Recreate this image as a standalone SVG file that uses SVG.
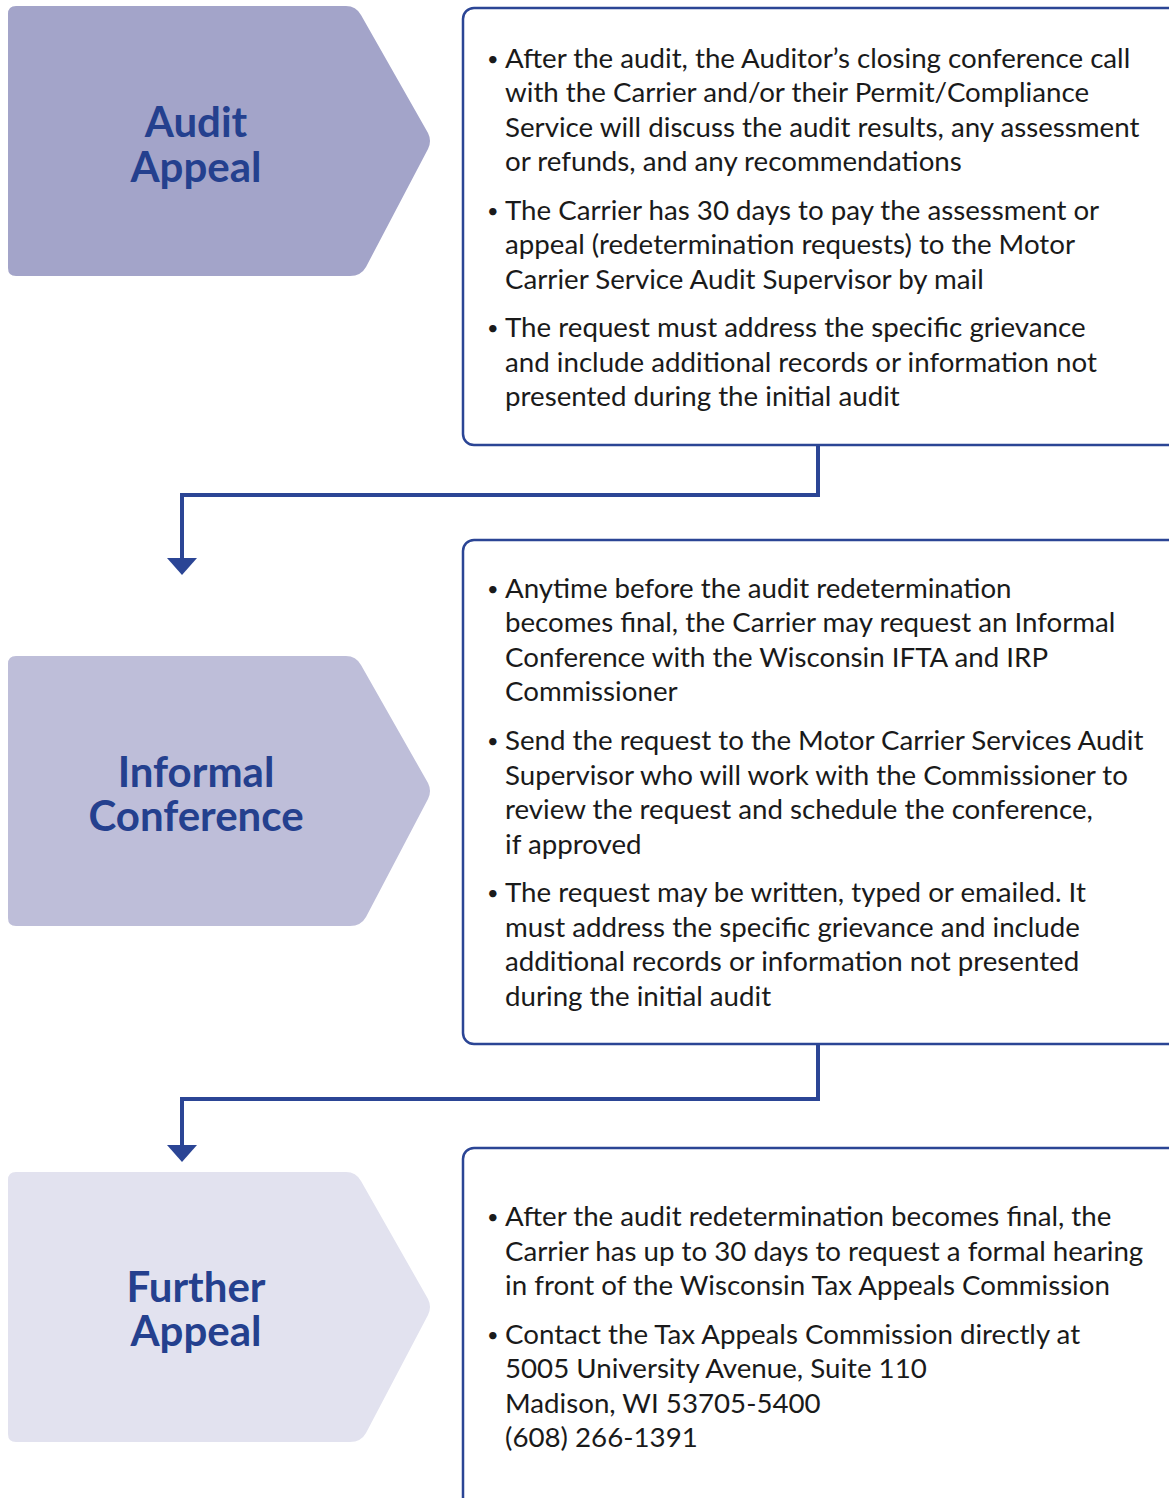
<svg xmlns="http://www.w3.org/2000/svg" width="1169" height="1498" viewBox="0 0 1169 1498">
<style>
.title{font-family:Lato,"Liberation Sans",sans-serif;font-weight:bold;font-size:42px;fill:#24408e;text-anchor:middle}
.body{font-family:Lato,"Liberation Sans",sans-serif;font-size:27.7px;fill:#1a1a1a}
.bul{font-size:20px}
.box{fill:#fff;stroke:#2b4595;stroke-width:2.5}
.conn{fill:none;stroke:#2b4595;stroke-width:4}
</style>
<defs>
<path id="chev" d="M16,6 H346 Q356,6 361,15 L428,133 Q432,141 428,149 L366,267 Q361,276 350,276 H16 Q8,276 8,268 V14 Q8,6 16,6 Z"/>
</defs>
<g id="audit-appeal">
<use href="#chev" fill="#a3a4c9"/>
<text class="title"><tspan x="196" y="137">Audit</tspan><tspan x="196" y="182">Appeal</tspan></text>
</g>
<g id="informal-conference">
<use href="#chev" fill="#bebed9" transform="translate(0,650)"/>
<text class="title"><tspan x="196" y="787">Informal</tspan><tspan x="196" y="831">Conference</tspan></text>
</g>
<g id="further-appeal">
<use href="#chev" fill="#e2e2ef" transform="translate(0,1166)"/>
<text class="title"><tspan x="196" y="1302">Further</tspan><tspan x="196" y="1346">Appeal</tspan></text>
</g>
<g id="box1">
<rect class="box" x="463" y="8" width="720" height="437" rx="11"/>
<g class="body">
<text class="bul" x="487" y="66">•</text>
<text x="505" y="68">After the audit, the Auditor’s closing conference call</text>
<text x="505" y="102">with the Carrier and/or their Permit/Compliance</text>
<text x="505" y="137">Service will discuss the audit results, any assessment</text>
<text x="505" y="171">or refunds, and any recommendations</text>
<text class="bul" x="487" y="218">•</text>
<text x="505" y="220">The Carrier has 30 days to pay the assessment or</text>
<text x="505" y="254">appeal (redetermination requests) to the Motor</text>
<text x="505" y="289">Carrier Service Audit Supervisor by mail</text>
<text class="bul" x="487" y="335">•</text>
<text x="505" y="337">The request must address the specific grievance</text>
<text x="505" y="372">and include additional records or information not</text>
<text x="505" y="406">presented during the initial audit</text>
</g>
</g>
<g id="box2">
<rect class="box" x="463" y="540" width="720" height="504" rx="11"/>
<g class="body">
<text class="bul" x="487" y="596">•</text>
<text x="505" y="598">Anytime before the audit redetermination</text>
<text x="505" y="632">becomes final, the Carrier may request an Informal</text>
<text x="505" y="667">Conference with the Wisconsin IFTA and IRP</text>
<text x="505" y="701">Commissioner</text>
<text class="bul" x="487" y="748">•</text>
<text x="505" y="750">Send the request to the Motor Carrier Services Audit</text>
<text x="505" y="785">Supervisor who will work with the Commissioner to</text>
<text x="505" y="819">review the request and schedule the conference,</text>
<text x="505" y="854">if approved</text>
<text class="bul" x="487" y="900">•</text>
<text x="505" y="902">The request may be written, typed or emailed. It</text>
<text x="505" y="937">must address the specific grievance and include</text>
<text x="505" y="971">additional records or information not presented</text>
<text x="505" y="1006">during the initial audit</text>
</g>
</g>
<g id="box3">
<rect class="box" x="463" y="1148" width="720" height="400" rx="11"/>
<g class="body">
<text class="bul" x="487" y="1224">•</text>
<text x="505" y="1226">After the audit redetermination becomes final, the</text>
<text x="505" y="1261">Carrier has up to 30 days to request a formal hearing</text>
<text x="505" y="1295">in front of the Wisconsin Tax Appeals Commission</text>
<text class="bul" x="487" y="1342">•</text>
<text x="505" y="1344">Contact the Tax Appeals Commission directly at</text>
<text x="505" y="1378">5005 University Avenue, Suite 110</text>
<text x="505" y="1413">Madison, WI 53705-5400</text>
<text x="505" y="1447">(608) 266-1391</text>
</g>
</g>
<g id="connectors">
<path class="conn" d="M818,445 V495 H182 V560"/>
<polygon points="167,558 197,558 182,575" fill="#2b4595"/>
<path class="conn" d="M818,1044 V1099 H182 V1147"/>
<polygon points="167,1145 197,1145 182,1162" fill="#2b4595"/>
</g>
</svg>
